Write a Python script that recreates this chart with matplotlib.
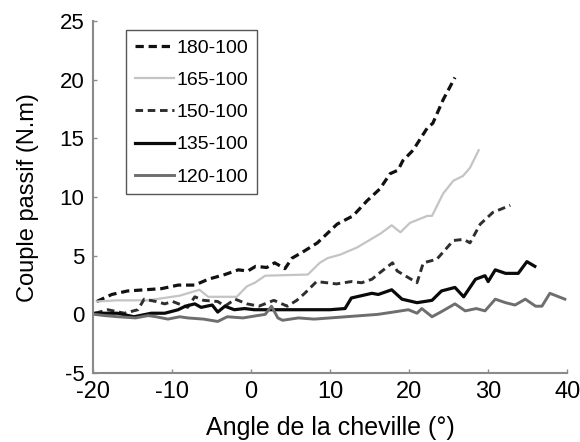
import matplotlib
matplotlib.use("Agg")
import matplotlib.pyplot as plt

plt.rcParams['font.family'] = ['Liberation Sans', 'DejaVu Sans']

# 180-100 : black dashed
x_180 = [-19.5, -17.6, -15.6, -13.4, -11.3, -9.2, -7.1, -5.4, -3.3, -1.6, -0.4, 0.6, 2.0, 3.0, 4.3,
         5.2, 6.5, 8.4, 10.9, 12.9, 14.7, 16.3, 17.6, 18.6, 19.2, 20.5, 22.3, 23.0, 24.3, 25.8]
y_180 = [1.1, 1.7, 2.0, 2.1, 2.2, 2.5, 2.5, 3.0, 3.4, 3.8, 3.7, 4.1, 4.0, 4.4, 3.9,
         4.8, 5.3, 6.1, 7.7, 8.4, 9.7, 10.7, 12.0, 12.3, 13.1, 14.0, 15.9, 16.3, 18.3, 20.2]

# 165-100 : light grey solid
x_165 = [-19.5, -17.0, -13.0, -9.0, -6.5, -5.4, -1.8, -0.5, 0.5, 1.8, 7.2, 8.7, 9.7, 11.3,
         13.4, 16.4, 17.8, 18.9, 20.1, 22.3, 22.9, 24.3, 25.6, 26.8, 27.7, 28.8]
y_165 = [1.1, 1.2, 1.2, 1.6, 2.1, 1.5, 1.5, 2.4, 2.7, 3.3, 3.4, 4.4, 4.8, 5.1,
         5.7, 6.9, 7.6, 7.0, 7.8, 8.4, 8.4, 10.3, 11.4, 11.8, 12.5, 14.0]

# 150-100 : dark grey dashed
x_150 = [-19.7, -18.1, -16.0, -14.3, -13.5, -12.0, -10.9, -9.9, -8.0, -7.1, -6.0, -4.2, -3.3,
         -2.0, -0.5, 1.0, 2.9, 4.6, 5.8, 6.8, 8.3, 9.6, 10.8, 12.7, 14.0, 15.3, 16.2, 17.9, 18.5,
         19.5, 21.0, 21.8, 23.5, 25.6, 26.9, 27.7, 29.0, 30.6, 32.8]
y_150 = [0.1, 0.4, 0.1, 0.4, 1.3, 1.1, 0.9, 1.1, 0.6, 1.5, 1.2, 1.1, 0.7,
         1.3, 0.9, 0.7, 1.2, 0.7, 1.2, 1.8, 2.8, 2.7, 2.6, 2.8, 2.7, 3.0, 3.5, 4.4, 3.7,
         3.3, 2.7, 4.4, 4.7, 6.3, 6.4, 6.1, 7.7, 8.7, 9.3]

# 135-100 : black solid
x_135 = [-19.7, -16.9, -14.8, -12.6, -10.9, -9.2, -8.3, -7.1, -6.3, -4.9, -4.2, -3.3, -2.1, -0.8,
         0.4, 5.0, 10.0, 11.9, 12.7, 15.3, 16.1, 17.8, 19.1, 21.0, 22.9, 24.1, 25.8, 26.9, 28.4,
         29.6, 30.0, 30.9, 32.2, 33.8, 34.9, 35.9]
y_135 = [0.1, 0.1, -0.2, 0.1, 0.1, 0.4, 0.7, 0.9, 0.6, 0.8, 0.2, 0.7, 0.4, 0.5,
         0.4, 0.4, 0.4, 0.5, 1.4, 1.8, 1.7, 2.1, 1.3, 1.0, 1.2, 2.0, 2.3, 1.5, 3.0,
         3.3, 2.8, 3.8, 3.5, 3.5, 4.5, 4.1]

# 120-100 : mid grey solid
x_120 = [-19.7, -18.5, -16.8, -14.6, -13.0, -12.0, -10.5, -9.0, -8.0, -6.0, -4.2, -3.0, -1.0,
         0.8, 1.8, 2.6, 3.4, 4.0, 6.0, 8.0, 10.0, 12.0, 14.0, 16.0, 18.0, 19.9, 21.0, 21.6,
         22.9, 24.0, 25.8, 27.1, 28.5, 29.6, 30.9, 32.2, 33.4, 34.7, 36.0, 36.8, 37.8, 39.7]
y_120 = [0.0, -0.1, -0.2, -0.3, -0.1, -0.2, -0.4, -0.2, -0.3, -0.4, -0.6, -0.2, -0.3,
         -0.1, 0.0, 0.7, -0.3, -0.5, -0.3, -0.4, -0.3, -0.2, -0.1, 0.0, 0.2, 0.4, 0.1, 0.5,
         -0.2, 0.2, 0.9, 0.3, 0.5, 0.3, 1.3, 1.0, 0.8, 1.3, 0.7, 0.7, 1.8, 1.3]

x_ticks = [-20, -10, 0, 10, 20, 30, 40]
y_ticks = [-5, 0, 5, 10, 15, 20, 25]

fig = plt.figure(figsize=(5.8, 4.42), dpi=100)
ax = fig.add_axes([0.160, 0.156, 0.818, 0.796])

ax.plot(x_180, y_180, color='#111111', lw=2.3, dashes=(2.6, 1.5), label='180-100')
ax.plot(x_165, y_165, color='#c4c4c4', lw=1.6, label='165-100')
ax.plot(x_150, y_150, color='#2e2e2e', lw=2.1, dashes=(2.6, 1.6), label='150-100')
ax.plot(x_135, y_135, color='#0a0a0a', lw=2.3, label='135-100')
ax.plot(x_120, y_120, color='#6e6e6e', lw=2.1, label='120-100')

ax.set_xlim(-20, 40)
ax.set_ylim(-5, 25)
ax.set_xticks(x_ticks)
ax.set_yticks(y_ticks)
ax.set_xticklabels([str(v) for v in x_ticks])
ax.set_yticklabels([str(v) for v in y_ticks])

for s in ['top', 'right']:
    ax.spines[s].set_visible(False)
for s in ['left', 'bottom']:
    ax.spines[s].set_color('#8a8a8a')
    ax.spines[s].set_linewidth(1.5)
ax.tick_params(direction='in', length=3, width=1, color='#8a8a8a')
ax.tick_params(axis='y', pad=6, labelsize=16)
ax.tick_params(axis='x', pad=6, labelsize=17)

ax.set_xlabel('Angle de la cheville (°)', fontsize=18, labelpad=9)
ax.set_ylabel('Couple passif (N.m)', fontsize=17, labelpad=15)

leg = ax.legend(loc='upper left', bbox_to_anchor=(0.07, 0.974), borderaxespad=0, fontsize=14,
                handlelength=2.0, handletextpad=0.15, labelspacing=0.75,
                borderpad=0.45, fancybox=False, framealpha=1)
leg.get_frame().set_edgecolor('#555555')
leg.get_frame().set_linewidth(1.0)

fig.savefig('out.png', dpi=100)
